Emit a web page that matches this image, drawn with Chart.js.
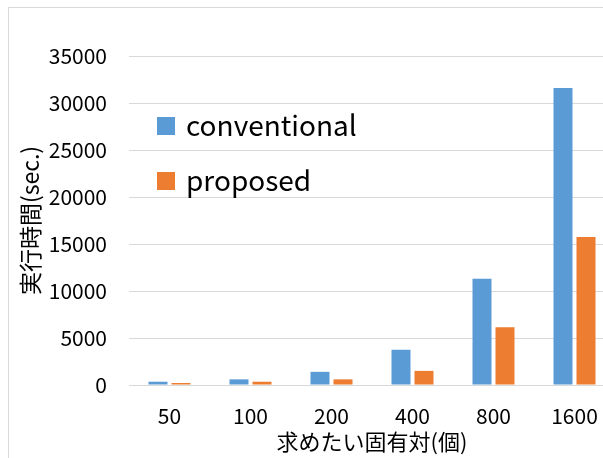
<!DOCTYPE html>
<html>
<head>
<meta charset="utf-8">
<script src="https://cdn.jsdelivr.net/npm/chart.js@4.4.1/dist/chart.umd.min.js"></script>
<style>
  html, body { margin: 0; padding: 0; overflow: hidden; background: #fff; }
  #wrap { position: relative; width: 625px; height: 458px; }
</style>
</head>
<body>
<div id="wrap"><canvas id="chart" width="625" height="458"></canvas></div>
<script>
// data
var categories = ['50', '100', '200', '400', '800', '1600'];
var conventional = [350, 600, 1400, 3750, 11300, 31600];
var proposed = [210, 350, 600, 1500, 6150, 15750];
var seriesNames = ['conventional', 'proposed'];
var yTicks = [0, 5000, 10000, 15000, 20000, 25000, 30000, 35000];

var yTitle = '実行時間(sec.)';
var xTitle = '求めたい固有対(個)';

var blue = '#5B9BD5';
var orange = '#ED7D31';
var gridColor = '#d9d9d9';
var fontFamily = '"Noto Sans CJK JP", "Noto Sans", sans-serif';

// outer frame like the office chart border
var framePlugin = {
  id: 'frame',
  beforeDraw: function (chart) {
    var c = chart.ctx;
    c.save();
    c.strokeStyle = gridColor;
    c.lineWidth = 1;
    c.strokeRect(8.5, 7.5, 800, 600);
    c.restore();
  }
};

// legend sits inside the plot, top left
var innerLegend = {
  id: 'innerLegend',
  afterDraw: function (chart) {
    var c = chart.ctx;
    c.save();
    c.font = '28px ' + fontFamily;
    c.textBaseline = 'middle';
    c.textAlign = 'left';
    chart.data.datasets.forEach(function (ds, i) {
      var y = 125 + i * 55;
      c.fillStyle = ds.backgroundColor;
      c.fillRect(157, y - 8, 18, 18);
      c.fillStyle = '#000';
      c.fillText(ds.label, 186, y);
    });
    c.restore();
  }
};

var ctx = document.getElementById('chart').getContext('2d');
var myChart = new Chart(ctx, {
  type: 'bar',
  data: {
    labels: categories,
    datasets: [
      { label: seriesNames[0], data: conventional, backgroundColor: blue },
      { label: seriesNames[1], data: proposed, backgroundColor: orange }
    ]
  },
  options: {
    responsive: false,
    animation: false,
    layout: { padding: { left: 8, top: 56, right: 10, bottom: 0 } },
    datasets: {
      bar: { categoryPercentage: 0.568, barPercentage: 0.826 }
    },
    plugins: {
      legend: { display: false },
      tooltip: { enabled: false }
    },
    scales: {
      x: {
        grid: { display: false },
        border: { display: false },
        ticks: { color: '#000', font: { family: fontFamily, size: 21 }, padding: 10, maxRotation: 0 },
        title: { display: true, text: xTitle, color: '#000', font: { family: fontFamily, size: 22 }, padding: { top: 0, bottom: 3 } },
        afterFit: function (scale) { scale.height = 73; }
      },
      y: {
        min: 0,
        max: 35000,
        afterBuildTicks: function (scale) {
          scale.ticks = yTicks.map(function (v) { return { value: v }; });
        },
        grid: { color: gridColor, drawTicks: false },
        border: { display: false },
        ticks: {
          color: '#000', font: { family: fontFamily, size: 21 }, padding: 22,
          callback: function (v) { return String(v); }
        },
        title: { display: true, text: yTitle, color: '#000', font: { family: fontFamily, size: 23 }, padding: { top: 8, bottom: 0 } },
        afterFit: function (scale) { scale.width = 121; }
      }
    }
  },
  plugins: [framePlugin, innerLegend]
});
</script>
</body>
</html>
